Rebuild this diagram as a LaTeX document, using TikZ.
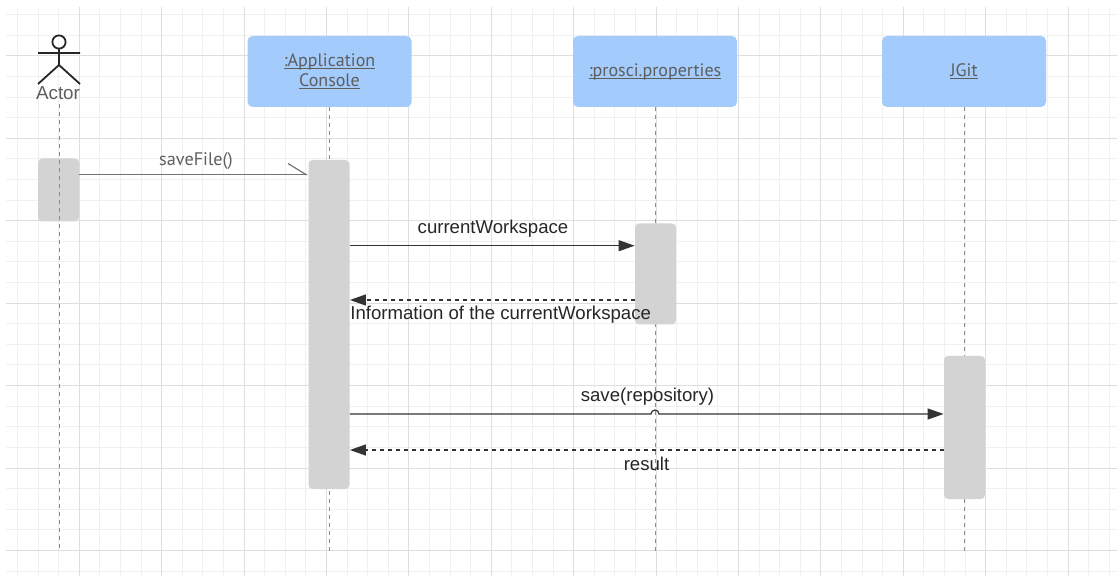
\documentclass[tikz,border=0pt]{standalone}
\usepackage{fontspec}
\setmainfont{Liberation Sans}
\newfontfamily\ptsans{PT Sans}
\usetikzlibrary{arrows.meta,positioning,calc}

\definecolor{headblue}{HTML}{A3CBFB}
\definecolor{actgray}{HTML}{D3D3D3}
\definecolor{gridminor}{HTML}{F0F0F0}
\definecolor{gridmajor}{HTML}{DEDEDE}
\definecolor{lifegray}{HTML}{8C8C8C}
\definecolor{textgray}{HTML}{5E5E5E}

% underline close to the baseline, as in the header boxes
\newcommand{\hdline}[1]{\setbox0\hbox{#1}\leavevmode\rlap{\rule[-1.3pt]{\wd0}{0.45pt}}\box0}

\tikzset{
  header/.style={fill=headblue, rounded corners=2.5pt, minimum width=82pt, minimum height=35.5pt,
    inner sep=0pt, align=center, text=textgray, font=\ptsans\fontsize{9}{10}\selectfont},
  activation/.style={fill=actgray, rounded corners=2pt, minimum width=20.5pt, inner sep=0pt},
  lifeline/.style={lifegray, line width=0.5pt, dash pattern=on 2pt off 2pt},
  msg/.style={inner sep=0pt, text=black!85, font=\fontsize{9.3}{11}\selectfont},
  call/.style={black!80, line width=0.6pt, -{Triangle[length=8pt,width=5.5pt]}},
  reply/.style={call, dash pattern=on 2pt off 2pt},
  async/.style={black!55, line width=0.6pt, -{Straight Barb[harpoon,length=9pt,width=11pt]}},
}

\begin{document}
\begin{tikzpicture}[x=0.5pt,y=-0.5pt]
  \useasboundingbox (0,0) rectangle (1117,576);

  % grid
  \begin{scope}
    \clip (6,7) rectangle (1117,576);
    \foreach \k [evaluate=\k as \gx using 17.5+20.6*\k] in {0,...,53}
      \draw[gridminor, line width=0.5pt] (\gx,7) -- (\gx,576);
    \foreach \k [evaluate=\k as \gy using 14.8+20.6*\k] in {0,...,27}
      \draw[gridminor, line width=0.5pt] (6,\gy) -- (1117,\gy);
    \foreach \k [evaluate=\k as \gx using 17.5+20.6*\k] in {3,7,...,51}
      \draw[gridmajor, line width=0.5pt] (\gx,7) -- (\gx,576);
    \foreach \k [evaluate=\k as \gy using 14.8+20.6*\k] in {2,6,...,26}
      \draw[gridmajor, line width=0.5pt] (6,\gy) -- (1117,\gy);
  \end{scope}

  \coordinate (bottom) at (0,551);

  % actor
  \draw[black!85, line width=0.9pt] (59,42) circle (3.3pt);
  \draw[black!85, line width=0.9pt] (59,48.6) -- (59,65) (38,53) -- (80,53)
    (38,84) -- (59,65) -- (80,84);
  \node[text=textgray, inner sep=0pt, font=\fontsize{9.4}{11}\selectfont] (actor) at (58,93) {Actor};

  % lifelines
  \node[header] (console) at (329.5,71.5) {\hdline{:Application}\\\hdline{Console}};
  \node[header] (props) at (655,71.5) {\hdline{:prosci.properties}};
  \node[header] (jgit) at (964,71.5) {\hdline{JGit}};

  \draw[lifeline] (console.south) -- (console.south |- bottom);
  \draw[lifeline] (props.south) -- (props.south |- bottom);
  \draw[lifeline] (jgit.south) -- (jgit.south |- bottom);

  \node[activation, minimum height=31.5pt] (actActor) at (58.5,190) {};
  \draw[lifeline] (actor.south) ++(1,4) -- (59,551);
  \node[activation, minimum height=164.5pt] (actConsole) at (329,324.5) {};
  \node[activation, minimum height=50.5pt] (actProps) at (655.5,274) {};
  \node[activation, minimum height=71.5pt] (actJgit) at (964.5,427.5) {};

  % messages
  \coordinate (m1) at (0,174.5);
  \coordinate (m2) at (0,245.7);
  \coordinate (m3) at (0,300);
  \coordinate (m4) at (0,414);
  \coordinate (m5) at (0,450);

  \draw[async] (actActor.east |- m1) -- (actConsole.west |- m1);
  \node[inner sep=0pt, text=textgray, font=\ptsans\fontsize{9.1}{11}\selectfont] (saveFile) at (196,161.5) {saveFile()};

  \draw[call] (actConsole.east |- m2) -- (actProps.west |- m2);
  \node[msg] (curWs) at (493,229) {currentWorkspace};

  \draw[reply] (actProps.west |- m3) -- (actConsole.east |- m3);
  \node[msg, anchor=west] (infoWs) at (350,315) {Information of the currentWorkspace};

  \draw[call] (actConsole.east |- m4) -- ($(props.south |- m4)+(-4,0)$)
    arc[start angle=180, end angle=0, radius=2pt] -- (actJgit.west |- m4);
  \node[msg] (saveRepo) at (647.5,397) {save(repository)};

  \draw[reply] (actJgit.west |- m5) -- (actConsole.east |- m5);
  \node[msg] (result) at (646.5,464) {result};
\end{tikzpicture}
\end{document}
